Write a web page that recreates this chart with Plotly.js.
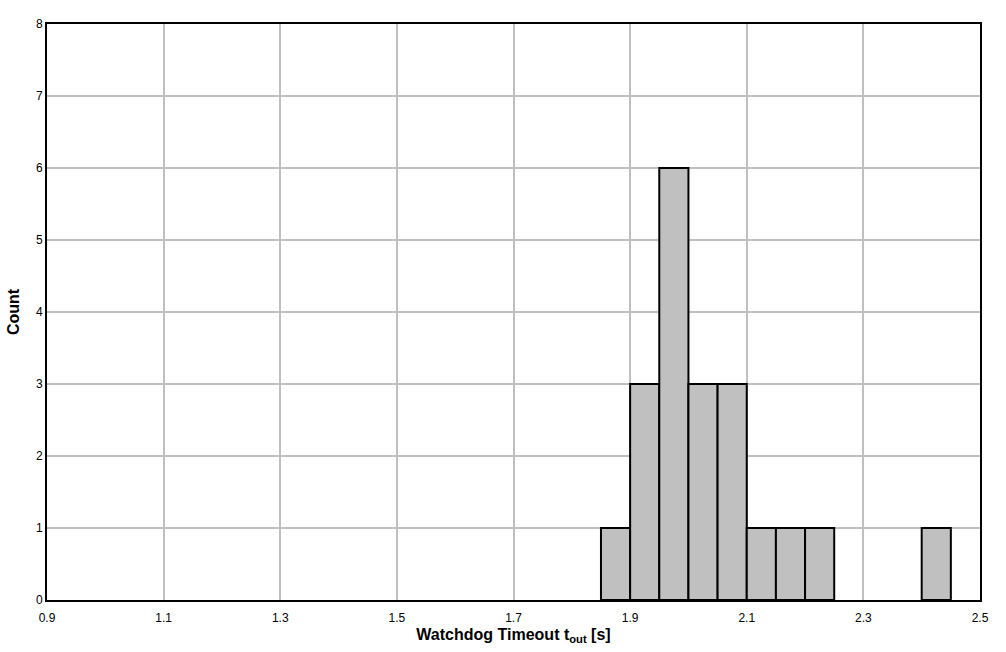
<!DOCTYPE html>
<html><head><meta charset="utf-8">
<script src="https://cdn.plot.ly/plotly-3.0.1.min.js"></script>
<style>html,body{margin:0;padding:0;background:#fff}#chart{width:1006px;height:652px}</style>
</head><body><div id="chart"></div>
<script>
const binLeft = [1.85, 1.90, 1.95, 2.00, 2.05, 2.10, 2.15, 2.20, 2.40];
const counts  = [1, 3, 6, 3, 3, 1, 1, 1, 1];
const binWidth = 0.05;
const xTicks = [0.9, 1.1, 1.3, 1.5, 1.7, 1.9, 2.1, 2.3, 2.5];
const yTicks = [0, 1, 2, 3, 4, 5, 6, 7, 8];

const trace = {
  type: 'bar', x: binLeft, y: counts, width: binWidth, offset: 0,
  marker: {color: '#c0c0c0', line: {color: '#000', width: 2}},
  hoverinfo: 'skip'
};
const font = {family: '"Liberation Sans", Arial, sans-serif', size: 12, color: '#000'};
const layout = {
  width: 1006, height: 652,
  margin: {l: 47, r: 26, t: 24, b: 52},
  paper_bgcolor: '#fff', plot_bgcolor: '#fff',
  font: font, showlegend: false, bargap: 0,
  xaxis: {
    range: [0.9, 2.5], tickmode: 'array', tickvals: xTicks,
    ticktext: xTicks.map(v => v.toFixed(1)),
    showgrid: true, gridcolor: '#c0c0c0', gridwidth: 2,
    showline: true, linecolor: '#000', linewidth: 2, mirror: true,
    ticks: '', zeroline: false, ticklabelstandoff: 6,
    title: {text: 'Watchdog Timeout t<sub>out</sub> [s]', font: {family: font.family, size: 16, color: '#000', weight: 'bold'}, standoff: 4}
  },
  yaxis: {
    range: [0, 8], tickmode: 'array', tickvals: yTicks,
    showgrid: true, gridcolor: '#c0c0c0', gridwidth: 2,
    showline: true, linecolor: '#000', linewidth: 2, mirror: true,
    ticks: '', zeroline: false,
    title: {text: 'Count', font: {family: font.family, size: 16, color: '#000', weight: 'bold'}, standoff: 12}
  }
};
Plotly.newPlot('chart', [trace], layout, {displayModeBar: false, staticPlot: true});
</script></body></html>
